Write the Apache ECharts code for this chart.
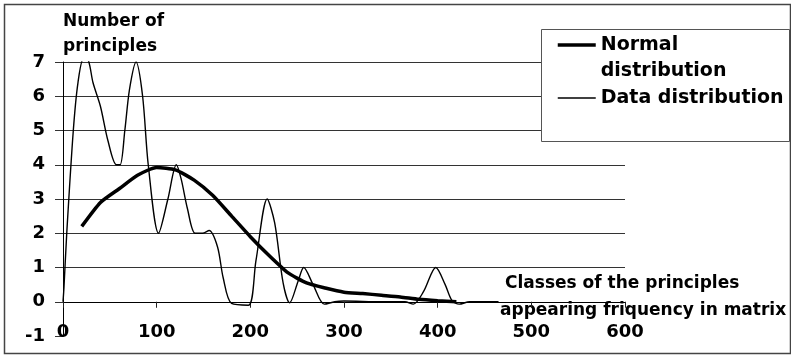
<!DOCTYPE html>
<html>
<head>
<meta charset="utf-8">
<script src="https://cdn.jsdelivr.net/npm/echarts@6/dist/echarts.min.js"></script>
<style>
  html, body { margin: 0; padding: 0; background: #fff; }
  #chart { width: 791px; height: 359px; }
</style>
</head>
<body>
<div id="chart"></div>
<script>
// Observed frequencies of principle classes (x = class, y = number of principles)
const dataX = [0, 1, 4, 11, 16, 22, 27, 32, 40, 48, 57, 61, 66, 71, 78, 85, 91, 102, 112, 121, 126, 133, 141, 149, 156, 165, 171, 180, 198, 206, 218, 226, 235, 242, 251, 257, 267, 279, 290, 300, 340, 365, 374, 385, 398, 408, 415, 423, 434, 465];
const dataY = [0, 0.4, 2, 5, 6.4, 7.1, 7.05, 6.4, 5.7, 4.7, 4, 4, 5, 6.2, 7, 6, 4, 2, 3, 4, 3.6, 2.7, 2, 2, 2.08, 1.6, 0.7, -0.05, -0.1, 1.2, 3, 2.3, 0.55, -0.03, 0.6, 1, 0.5, -0.07, 0, 0.02, 0, 0, -0.07, 0.3, 1, 0.5, 0.05, -0.07, 0, 0];

// Fitted normal distribution
const normX = [20, 40, 60, 80, 100, 120, 140, 160, 180, 200, 220, 240, 260, 280, 300, 320, 340, 360, 380, 400, 420];
const normY = [2.2, 2.9, 3.3, 3.7, 3.92, 3.85, 3.55, 3.1, 2.5, 1.9, 1.35, 0.85, 0.55, 0.4, 0.28, 0.24, 0.19, 0.14, 0.07, 0.03, 0.0];

// Axis ticks
const xTicks = [0, 100, 200, 300, 400, 500, 600];
const yTicks = [-1, 0, 1, 2, 3, 4, 5, 6, 7];

const FONT = "'DejaVu Sans', sans-serif";

const pairs = (xs, ys) => xs.map((x, i) => [x, ys[i]]);

const chart = echarts.init(document.getElementById('chart'), null, { renderer: 'canvas' });

chart.setOption({
  backgroundColor: '#fff',
  animation: false,
  grid: {
    left: 63, right: 166, top: 62, bottom: 23,
    containLabel: false,
    outerBoundsMode: 'none'
  },
  xAxis: {
    type: 'value',
    min: xTicks[0],
    max: xTicks[xTicks.length - 1],
    interval: 100,
    axisLine: { show: true, onZero: true, lineStyle: { color: '#000', width: 1 } },
    axisTick: { show: true, length: 6, lineStyle: { color: '#222' } },
    axisLabel: {
      margin: -13,
      color: '#000',
      fontFamily: FONT,
      fontWeight: 'bold',
      fontSize: 18,
      showMinLabel: true,
      showMaxLabel: true
    },
    splitLine: { show: false },
    name: '{a|Classes of the principles}\n{b|appearing friquency in matrix}',
    nameLocation: 'end',
    nameGap: -125,
    nameMoveOverlap: false,
    nameTextStyle: {
      align: 'left',
      verticalAlign: 'middle',
      padding: [0, 0, 10, 0],
      rich: {
        a: {
          fontFamily: FONT, fontWeight: 'bold', fontSize: 17, color: '#000',
          lineHeight: 27, backgroundColor: '#fff', padding: [0, 0, 0, 5]
        },
        b: {
          fontFamily: FONT, fontWeight: 'bold', fontSize: 17, color: '#000',
          lineHeight: 26, backgroundColor: '#fff'
        }
      }
    }
  },
  yAxis: {
    type: 'value',
    min: yTicks[0],
    max: yTicks[yTicks.length - 1],
    interval: 1,
    axisLine: { show: true, onZero: false, lineStyle: { color: '#000', width: 1 } },
    axisTick: { show: true, length: 8, lineStyle: { color: '#333' } },
    axisLabel: {
      margin: 18,
      color: '#000',
      fontFamily: FONT,
      fontWeight: 'bold',
      fontSize: 18
    },
    splitLine: { show: true, showMinLine: false, lineStyle: { color: '#333', width: 1 } },
    name: 'Number of\nprinciples',
    nameLocation: 'end',
    nameGap: 3,
    nameMoveOverlap: false,
    nameTextStyle: {
      align: 'left',
      verticalAlign: 'bottom',
      fontFamily: FONT,
      fontWeight: 'bold',
      fontSize: 17,
      lineHeight: 25,
      color: '#000'
    }
  },
  legend: {
    orient: 'vertical',
    left: 556,
    top: 6,
    padding: 0,
    itemGap: 1,
    itemWidth: 38,
    itemHeight: 14,
    z: 5,
    itemStyle: { color: 'rgba(0,0,0,0)', borderWidth: 0, opacity: 0 },
    textStyle: {
      fontFamily: FONT,
      fontWeight: 'bold',
      fontSize: 19,
      lineHeight: 26,
      color: '#000'
    },
    // leading blank line keeps "Normal" level with its line sample
    formatter: (name) => name === 'Normal distribution' ? '\nNormal\ndistribution' : name,
    data: [
      { name: 'Normal distribution', lineStyle: { width: 3.5, color: '#000' } },
      { name: 'Data distribution', lineStyle: { width: 1.4, color: '#000' } }
    ]
  },
  graphic: [
    {
      type: 'rect', z: 3,
      shape: { x: 541.5, y: 29.5, width: 248, height: 112 },
      style: { fill: '#fff', stroke: '#555', lineWidth: 1 }
    },
    {
      type: 'rect', z: 10,
      shape: { x: 4.5, y: 4.5, width: 786, height: 349 },
      style: { fill: 'none', stroke: '#444', lineWidth: 1.5 }
    }
  ],
  series: [
    {
      name: 'Normal distribution',
      type: 'line',
      data: pairs(normX, normY),
      symbol: 'none',
      smooth: 0.2,
      lineStyle: { color: '#000', width: 3.5 },
      itemStyle: { color: '#000' },
      z: 3
    },
    {
      name: 'Data distribution',
      type: 'line',
      data: pairs(dataX, dataY),
      symbol: 'none',
      smooth: 0.3,
      lineStyle: { color: '#000', width: 1.4 },
      itemStyle: { color: '#000' },
      z: 2
    }
  ]
});
</script>
</body>
</html>
